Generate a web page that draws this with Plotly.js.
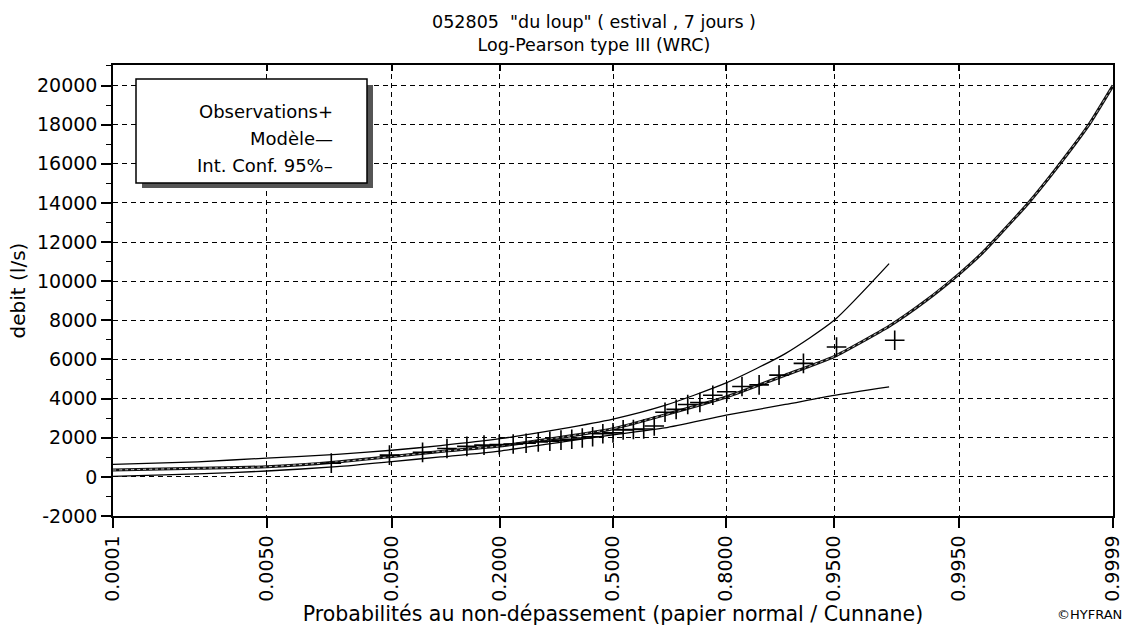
<!DOCTYPE html>
<html>
<head>
<meta charset="utf-8">
<script src="https://cdn.plot.ly/plotly-3.0.1.min.js"></script>
<style>html,body{margin:0;padding:0;background:#fff;}#chart{width:1129px;height:626px;}</style>
</head>
<body>
<div id="chart"></div>
<script>
// ---- Data ----
const probTicks = [0.0001, 0.005, 0.05, 0.2, 0.5, 0.8, 0.95, 0.995, 0.9999];
const probTickLabels = ['0.0001','0.0050','0.0500','0.2000','0.5000','0.8000','0.9500','0.9950','0.9999'];

const yTickVals = [-2000, 0, 2000, 4000, 6000, 8000, 10000, 12000, 14000, 16000, 18000, 20000];
const yTickText = ['-2000','0','2000','4000','6000','8000','10000','12000','14000','16000','18000','20000'];

// Model (Log-Pearson III) quantiles
const modelProb = [0.0001, 0.001, 0.005, 0.02, 0.05, 0.1, 0.2, 0.35, 0.5, 0.65, 0.8, 0.9, 0.95, 0.98, 0.99, 0.995, 0.997, 0.998, 0.999, 0.9995, 0.9998, 0.9999];
const modelFlow = [350, 440, 515, 760, 1040, 1300, 1580, 2020, 2460, 3170, 4080, 5200, 6150, 7700, 9000, 10380, 11450, 12400, 14000, 15700, 18000, 20000];

// 95% confidence interval
const ciProb  = [0.0001, 0.001, 0.005, 0.02, 0.05, 0.1, 0.2, 0.35, 0.5, 0.65, 0.8, 0.9, 0.95, 0.98];
const ciUpper = [640, 770, 960, 1150, 1360, 1600, 1950, 2450, 2950, 3650, 4800, 6300, 8000, 10900];
const ciLower = [30, 150, 300, 520, 780, 1020, 1320, 1780, 2150, 2500, 3150, 3700, 4170, 4600];

// Observations (Cunnane plotting positions, n = 33)
const obsProb = [0.01807, 0.04819, 0.07831, 0.10843, 0.13855, 0.16867, 0.19880, 0.22892, 0.25904, 0.28916,
                 0.31928, 0.34940, 0.37952, 0.40964, 0.43976, 0.46988, 0.50000, 0.53012, 0.56024, 0.59036,
                 0.62048, 0.65060, 0.68072, 0.71084, 0.74096, 0.77108, 0.80120, 0.83133, 0.86145, 0.89157,
                 0.92169, 0.95181, 0.98193];
const obsFlow = [700, 1110, 1250, 1450, 1560, 1620, 1650, 1680, 1720, 1780,
                 1820, 1880, 1920, 1990, 2050, 2200, 2250, 2400, 2420, 2450,
                 2600, 3300, 3450, 3700, 3800, 4170, 4350, 4620, 4700, 5200,
                 5800, 6640, 6980];

// ---- Normal probability paper transform (inverse normal CDF, Acklam) ----
function qnorm(p) {
  const a=[-3.969683028665376e+01,2.209460984245205e+02,-2.759285104469687e+02,1.383577518672690e+02,-3.066479806614716e+01,2.506628277459239e+00];
  const b=[-5.447609879822406e+01,1.615858368580409e+02,-1.556989798598866e+02,6.680131188771972e+01,-1.328068155288572e+01];
  const c=[-7.784894002430293e-03,-3.223964580411365e-01,-2.400758277161838e+00,-2.549732539343734e+00,4.374664141464968e+00,2.938163982698783e+00];
  const d=[7.784695709041462e-03,3.224671290700398e-01,2.445134137142996e+00,3.754408661907416e+00];
  const pl = 0.02425;
  let q, r;
  if (p < pl) {
    q = Math.sqrt(-2*Math.log(p));
    return (((((c[0]*q+c[1])*q+c[2])*q+c[3])*q+c[4])*q+c[5])/((((d[0]*q+d[1])*q+d[2])*q+d[3])*q+1);
  }
  if (p > 1-pl) {
    q = Math.sqrt(-2*Math.log(1-p));
    return -(((((c[0]*q+c[1])*q+c[2])*q+c[3])*q+c[4])*q+c[5])/((((d[0]*q+d[1])*q+d[2])*q+d[3])*q+1);
  }
  q = p-0.5; r = q*q;
  return (((((a[0]*r+a[1])*r+a[2])*r+a[3])*r+a[4])*r+a[5])*q/(((((b[0]*r+b[1])*r+b[2])*r+b[3])*r+b[4])*r+1);
}
const Z = arr => arr.map(qnorm);

const FONT = '"DejaVu Sans", Arial, sans-serif';
const xRange = [qnorm(probTicks[0]), qnorm(probTicks[probTicks.length-1])];

const traces = [
  {x: Z(ciProb), y: ciLower, mode:'lines', line:{color:'#000', width:1.3, shape:'spline', smoothing:0.6}, hoverinfo:'x+y', name:'IC inf.'},
  {x: Z(ciProb), y: ciUpper, mode:'lines', line:{color:'#000', width:1.3, shape:'spline', smoothing:0.6}, hoverinfo:'x+y', name:'IC sup.'},
  {x: Z(modelProb), y: modelFlow, mode:'lines', line:{color:'#111', width:3, shape:'spline', smoothing:0.5}, name:'Modèle'},
  {x: Z(modelProb), y: modelFlow, mode:'lines', line:{color:'#c8c8c8', width:1, dash:'dot', shape:'spline', smoothing:0.5}, hoverinfo:'skip', name:'Modèle'},
  {x: Z(obsProb), y: obsFlow, mode:'markers', marker:{symbol:'cross-thin', size:14, line:{width:1.6, color:'#000'}}, name:'Observations'},
  {x: [qnorm(0.5)], y: [null], xaxis:'x2', yaxis:'y', mode:'markers', hoverinfo:'skip', showlegend:false}
];

const layout = {
  width: 1129, height: 626,
  margin: {l:113, r:16, t:65, b:110, pad:0},
  paper_bgcolor:'#fff', plot_bgcolor:'#fff',
  showlegend:false,
  font: {family: FONT, color:'#000', size:18},
  title: {
    text: '052805  "du loup" ( estival , 7 jours )<br>Log-Pearson type III (WRC)',
    font: {family: FONT, size:17.5, color:'#000'},
    x: 594/1129, xref:'container', xanchor:'center',
    y: 1 - 28/626, yref:'container', yanchor:'top'
  },
  xaxis: {
    range: xRange, type:'linear',
    tickmode:'array', tickvals: Z(probTicks), ticktext: probTickLabels,
    tickangle:-90, ticks:'outside', ticklen:10, tickwidth:1.5, tickcolor:'#000',
    tickfont:{family:FONT, size:19, color:'#000'},
    showline:true, linecolor:'#000', linewidth:1.5, mirror:true,
    showgrid:true, gridcolor:'#000', gridwidth:1.3, griddash:'5px,4px',
    zeroline:false, fixedrange:true,
    title:{text:'Probabilités au non-dépassement (papier normal / Cunnane)', font:{family:FONT, size:20.5, color:'#000'}, standoff:0}
  },
  xaxis2: {
    overlaying:'x', matches:'x', side:'top',
    tickmode:'array', tickvals: Z(probTicks), showticklabels:false,
    ticks:'inside', ticklen:6, tickwidth:1.5, tickcolor:'#000',
    showgrid:false, showline:false, zeroline:false
  },
  yaxis: {
    range:[-2000, 21050],
    tickmode:'array', tickvals: yTickVals, ticktext: yTickText,
    ticks:'outside', ticklen:10, tickwidth:1.5, tickcolor:'#000',
    minor:{dtick:1000, tick0:0, ticks:'outside', ticklen:5, tickwidth:1.3, tickcolor:'#000', showgrid:false},
    tickfont:{family:FONT, size:19, color:'#000'},
    showline:true, linecolor:'#000', linewidth:1.5, mirror:true,
    showgrid:true, gridcolor:'#000', gridwidth:1.3, griddash:'5px,4px',
    zeroline:false, fixedrange:true,
    title:{text:'debit (l/s)', font:{family:FONT, size:20, color:'#000'}, standoff:6}
  },
  shapes: [
    {type:'rect', xref:'paper', yref:'paper', x0:0.029, x1:0.260, y0:0.7273, y1:0.9557, fillcolor:'#555', line:{width:0}, layer:'above'},
    {type:'rect', xref:'paper', yref:'paper', x0:0.023, x1:0.254, y0:0.7384, y1:0.969, fillcolor:'#fff', line:{color:'#000', width:1.5}, layer:'above'}
  ],
  annotations: [
    {text:'Observations+', xref:'paper', yref:'paper', x:0.222, y:0.896, xanchor:'right', yanchor:'middle', showarrow:false, font:{family:FONT, size:18, color:'#000'}},
    {text:'Modèle—', xref:'paper', yref:'paper', x:0.222, y:0.836, xanchor:'right', yanchor:'middle', showarrow:false, font:{family:FONT, size:18, color:'#000'}},
    {text:'Int. Conf. 95%–', xref:'paper', yref:'paper', x:0.222, y:0.778, xanchor:'right', yanchor:'middle', showarrow:false, font:{family:FONT, size:18, color:'#000'}},
    {text:'©HYFRAN', xref:'paper', yref:'paper', x:1.011, y:-0.2195, xanchor:'right', yanchor:'middle', showarrow:false, font:{family:FONT, size:13, color:'#000'}}
  ]
};

Plotly.newPlot('chart', traces, layout, {displayModeBar:false, staticPlot:false});
</script>
</body>
</html>
